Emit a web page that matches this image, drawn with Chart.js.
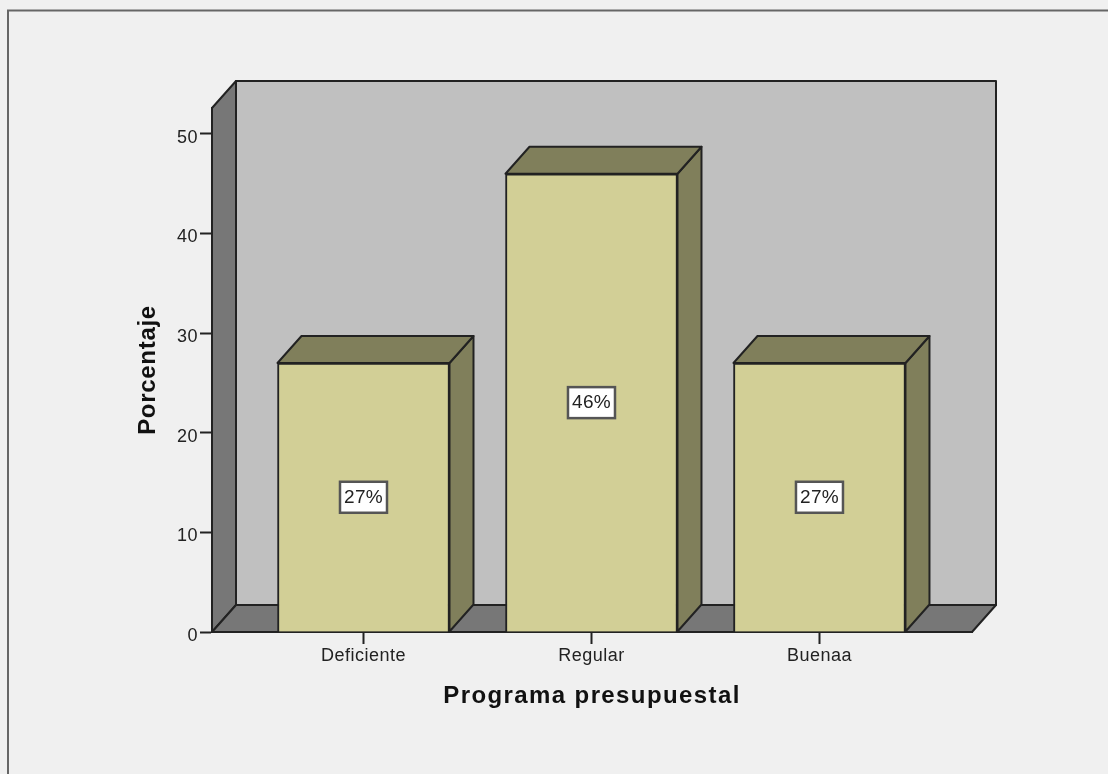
<!DOCTYPE html>
<html><head><meta charset="utf-8">
<script src="https://cdn.jsdelivr.net/npm/chart.js@4"></script>
<style>html,body{margin:0;padding:0;background:#f0f0f0;overflow:hidden}canvas{display:block}</style>
</head><body><canvas id="c" width="1108" height="774" style="width:1108px;height:774px"></canvas>
<script>
const categories = ['Deficiente','Regular','Buenaa'];
const percentages = [27,46,27];
const barLabels = ['27%','46%','27%'];
const yTicks = [0,10,20,30,40,50];
const xTitle = 'Programa presupuestal';
const yTitle = 'Porcentaje';

const FONT = '"Liberation Sans", Arial, sans-serif';
const LINE = '#222';
const DX = 24, DY = 27;

function poly(ctx, pts, fill){
  ctx.beginPath();
  pts.forEach((p,i)=> i ? ctx.lineTo(p[0],p[1]) : ctx.moveTo(p[0],p[1]));
  ctx.closePath();
  ctx.fillStyle = fill; ctx.fill();
  ctx.strokeStyle = LINE; ctx.lineWidth = 2; ctx.lineJoin = 'round'; ctx.stroke();
}

// letter spacing and small offset for the scale texts
function styleText(s, labelSpacing, titleSpacing, labelDy){
  if (s._styled) return;
  s._styled = true;
  const dt = s.drawTitle, dl = s.drawLabels;
  s.drawTitle = function(){ const c=this.ctx; c.save(); c.letterSpacing=titleSpacing; dt.call(this); c.restore(); };
  s.drawLabels = function(a){ const c=this.ctx; c.save(); c.letterSpacing=labelSpacing; c.translate(0,labelDy); dl.call(this,a); c.restore(); };
}

const scene = {
  id:'scene',
  beforeDraw(chart){
    const {ctx} = chart;
    ctx.save();
    ctx.fillStyle = '#f0f0f0'; ctx.fillRect(0,0,chart.width,chart.height);
    ctx.strokeStyle = '#666666'; ctx.lineWidth = 2;
    ctx.beginPath(); ctx.moveTo(8,774); ctx.lineTo(8,10.5); ctx.lineTo(1108,10.5); ctx.stroke();
    ctx.restore();
  },
  beforeDatasetsDraw(chart){
    const {ctx, chartArea:a} = chart;
    const l=a.left, r=a.right, t=a.top, b=a.bottom;
    ctx.save();
    poly(ctx, [[l+DX,t-DY],[r+DX,t-DY],[r+DX,b-DY],[l+DX,b-DY]], '#c0c0c0');
    poly(ctx, [[l,t],[l+DX,t-DY],[l+DX,b-DY],[l,b]], '#777777');
    poly(ctx, [[l,b],[l+DX,b-DY],[r+DX,b-DY],[r,b]], '#777777');
    const meta = chart.getDatasetMeta(0);
    meta.data.forEach(bar=>{
      const {x,y,base,width} = bar.getProps(['x','y','base','width'], true);
      const L=x-width/2, R=x+width/2;
      poly(ctx, [[R,y],[R+DX,y-DY],[R+DX,base-DY],[R,base]], '#807f5b');
      poly(ctx, [[L,y],[L+DX,y-DY],[R+DX,y-DY],[R,y]], '#807f5b');
    });
    ctx.restore();
  },
  afterDatasetsDraw(chart){
    const {ctx} = chart;
    const meta = chart.getDatasetMeta(0);
    ctx.save();
    ctx.font = '19px '+FONT;
    ctx.letterSpacing = '0.3px';
    ctx.textAlign='center'; ctx.textBaseline='middle';
    meta.data.forEach((bar,i)=>{
      const {x,y,base} = bar.getProps(['x','y','base'], true);
      const cy=(y+base)/2;
      const w=47,h=31;
      ctx.fillStyle='#ffffff'; ctx.fillRect(x-w/2,cy-h/2,w,h);
      ctx.strokeStyle='#555555'; ctx.lineWidth=2.5; ctx.strokeRect(x-w/2,cy-h/2,w,h);
      ctx.fillStyle='#222'; ctx.fillText(barLabels[i],x,cy+0.5);
    });
    ctx.restore();
  }
};

new Chart(document.getElementById('c'),{
  type:'bar',
  data:{datasets:[{
    data:percentages.map((v,i)=>({x:i,y:v})),
    backgroundColor:'#d2cf96',
    borderColor:LINE,
    borderWidth:2,
    barThickness:172
  }]},
  options:{
    responsive:false, animation:false, devicePixelRatio:1,
    layout:{padding:{top:108,right:136,left:134,bottom:63}},
    plugins:{legend:{display:false},tooltip:{enabled:false},title:{display:false}},
    scales:{
      x:{
        type:'linear', min:-0.6645, max:2.669, offset:false,
        position:'bottom',
        afterBuildTicks(s){ s.ticks = categories.map((_,i)=>({value:i})); },
        afterFit(s){ s.height = 79; styleText(s,'0.5px','1.4px',-1); },
        grid:{offset:false,drawOnChartArea:false,drawTicks:true,tickLength:12,tickColor:LINE,tickWidth:2},
        border:{display:true,color:LINE,width:2},
        ticks:{autoSkip:false,maxRotation:0,padding:2,color:'#222',font:{family:FONT,size:18},callback:v=>categories[v]},
        title:{display:true,text:xTitle,color:'#111',padding:{top:14,bottom:0},font:{family:FONT,size:24,weight:'bold'}}
      },
      y:{
        min:0,max:52.6,
        afterBuildTicks(s){ s.ticks = yTicks.map(v=>({value:v})); },
        afterFit(s){ s.width = 78; styleText(s,'0.5px','0.7px',4); },
        grid:{drawOnChartArea:false,drawTicks:true,tickLength:12,tickColor:LINE,tickWidth:2},
        border:{display:true,color:LINE,width:2},
        ticks:{padding:2,color:'#222',font:{family:FONT,size:18}},
        title:{display:true,text:yTitle,color:'#111',padding:{top:0,bottom:0},font:{family:FONT,size:24,weight:'bold'}}
      }
    }
  },
  plugins:[scene]
});
</script></body></html>
